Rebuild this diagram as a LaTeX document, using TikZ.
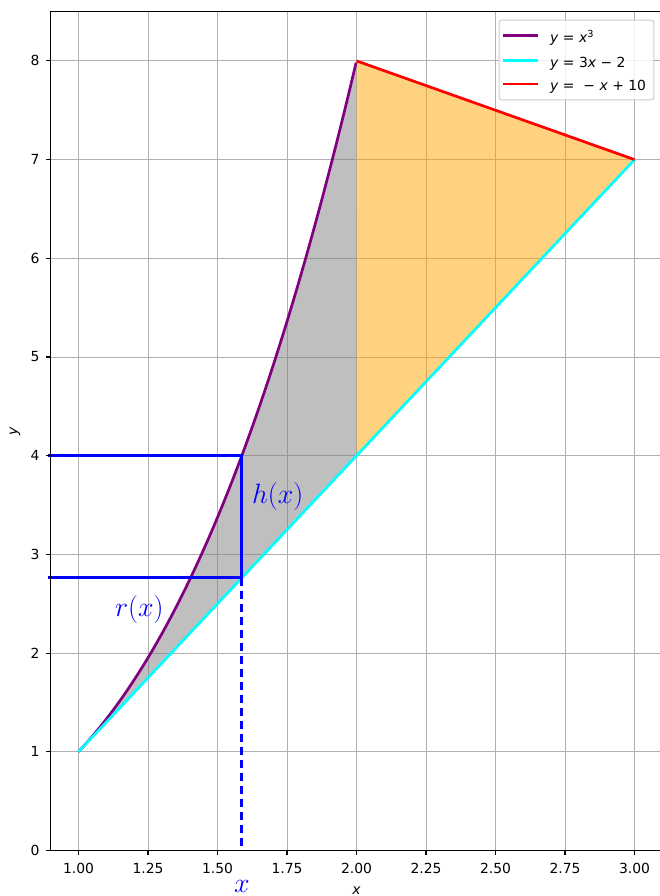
\RequirePackage{fix-cm}
\documentclass[tikz,border=0pt]{standalone}
\usepackage[no-math]{fontspec}
\setmainfont{DejaVu Sans}
\definecolor{mplpurple}{HTML}{800080}
\definecolor{mplorange}{HTML}{FFA500}
\definecolor{mplgray}{HTML}{808080}
\definecolor{mplcyan}{HTML}{00FFFF}
\definecolor{mplred}{HTML}{FF0000}
\definecolor{mplblue}{HTML}{0000FF}
\definecolor{gridc}{HTML}{B0B0B0}
\definecolor{legedge}{HTML}{CCCCCC}
\tikzset{
  gridline/.style={draw=gridc, line width=0.9pt},
  spine/.style={draw=black, line width=1.1pt},
  tickmark/.style={draw=black, line width=1.1pt},
  ticklab/.style={inner sep=0pt, font=\fontsize{13.9}{16}\selectfont},
  curve/.style={line width=2.7pt, line join=round},
  blueline/.style={draw=mplblue, line width=3pt},
  bluelab/.style={inner sep=0pt, text=mplblue, font=\fontsize{28}{32}\selectfont},
  legtext/.style={inner sep=0pt, anchor=base west, font=\fontsize{13.9}{16}\selectfont}
}
\begin{document}
\begin{tikzpicture}[x=278pt, y=98.7pt]
\useasboundingbox (0.71763,-0.461) rectangle (3.0917,8.617);
% grid
\foreach \xv in {1,1.25,1.5,1.75,2,2.25,2.5,2.75,3} \draw[gridline] (\xv,0) -- (\xv,8.5);
\foreach \yv in {1,...,8} \draw[gridline] (0.9,\yv) -- (3.0917,\yv);
% fills
\fill[mplgray, opacity=0.5] plot[domain=1:2, samples=100] (\x,{\x*\x*\x}) -- (2,4) -- (1,1) -- cycle;
\fill[mplorange, opacity=0.5] (2,8) -- (3,7) -- (2,4) -- cycle;
% curves
\draw[curve, mplpurple] plot[domain=1:2, samples=100] (\x,{\x*\x*\x});
\draw[curve, mplcyan] (1,1) -- (3,7);
\draw[curve, mplred] (2,8) -- (3,7);
% blue construction
\coordinate (ctop) at (1.5874,4);
\coordinate (cbot) at (1.5874,2.7622);
\coordinate (ltop) at (0.89,4);
\coordinate (lbot) at (0.89,2.7622);
\coordinate (cax) at (1.5874,0);
\draw[blueline] (ltop) -- (ctop) -- (cbot) -- (lbot);
\draw[blueline, dash pattern=on 8pt off 5pt] (cbot) -- (cax);
% spines
\draw[spine] (0.9,0) -- (0.9,8.5) -- (3.0917,8.5);
\draw[spine] (0.9,0) -- (3.0917,0);
% ticks
\foreach \xv/\lab in {1/1.00,1.25/1.25,1.5/1.50,1.75/1.75,2/2.00,2.25/2.25,2.5/2.50,2.75/2.75,3/3.00}{
  \draw[tickmark] (\xv,0) -- ++(0,-4.9pt);
  \node[ticklab, anchor=north, yshift=-12.5pt] (xt\lab) at (\xv,0) {\lab};
}
\foreach \yv in {0,...,8}{
  \draw[tickmark] (0.9,\yv) -- ++(-4.9pt,0);
  \node[ticklab, anchor=east, xshift=-11pt] (yt\yv) at (0.9,\yv) {\yv};
}
% axis labels
\node[ticklab, anchor=base] (xlab) at (2.0,-0.448) {\itshape x};
\node[ticklab, rotate=90] (ylab) at (0.7716,4.25) {\itshape y};
% blue labels
\node[bluelab, anchor=base west] (hlab) at (1.624,3.52) {$h(x)$};
\node[bluelab, anchor=base west] (rlab) at (1.131,2.37) {$r(x)$};
\node[bluelab, anchor=base] (xblue) at (1.5874,-0.43) {$x$};
% legend
\draw[draw=legedge, fill=white, fill opacity=0.8, line width=1pt, rounded corners=3pt] (2.5126,7.604) rectangle (3.070,8.414);
\draw[curve, mplpurple] (2.528,8.255) -- (2.654,8.255);
\draw[curve, mplcyan] (2.528,8.006) -- (2.654,8.006);
\draw[curve, mplred] (2.528,7.766) -- (2.654,7.766);
\node[legtext] (leg1) at (2.696,8.184) {\textit{y} = \textit{x}\textsuperscript{3}};
\node[legtext] (leg2) at (2.696,7.938) {\textit{y} = 3\textit{x} − 2};
\node[legtext] (leg3) at (2.696,7.695) {\textit{y} =\ \ − \textit{x} + 10};
\end{tikzpicture}
\end{document}
